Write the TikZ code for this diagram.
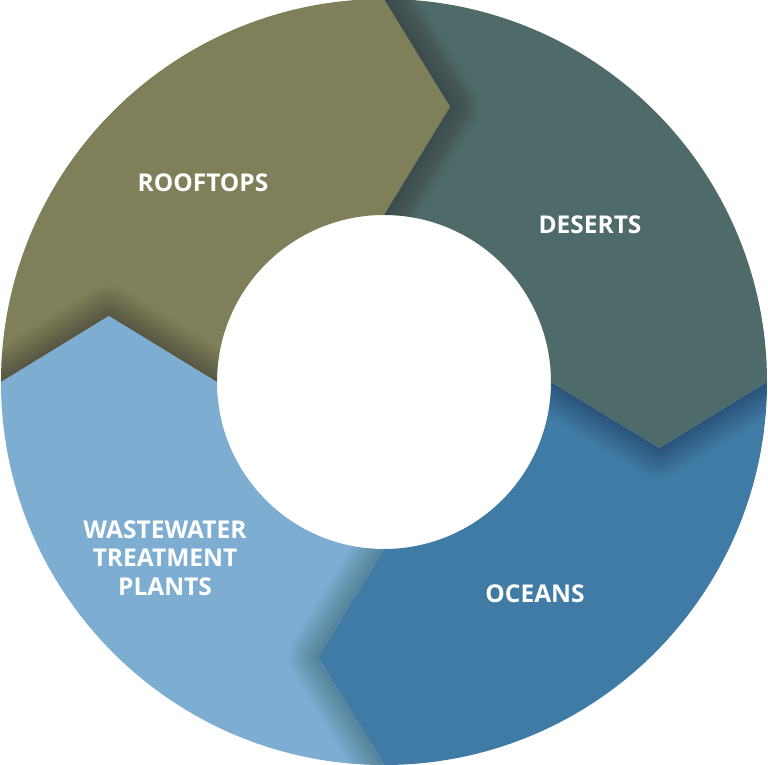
\documentclass[tikz,border=0pt]{standalone}
\usepackage{fontspec}
\setmainfont{Open Sans}
\definecolor{rooftopc}{HTML}{7F7F5A}
\definecolor{desertc}{HTML}{4E6B69}
\definecolor{oceanc}{HTML}{3F7BA4}
\definecolor{wastec}{HTML}{7DAED2}
\def\segp#1#2{(#1:383) arc[start angle=#1,end angle=#2,radius=383] -- ({#2-13.5}:283) -- (#2:167) arc[start angle=#2,end angle=#1,radius=167] -- ({#1-13.5}:283) -- cycle}
\def\edgep#1{(#1:383) -- ({#1-13.5}:283) -- (#1:167)}
\tikzset{
  lbl/.style={text=white, font=\bfseries\fontsize{24.5}{28.5}\selectfont, align=center},
}
\begin{document}
\begin{tikzpicture}[x=1pt,y=1pt]
\useasboundingbox (-384,-383) rectangle (384,382);
% segments
\fill[rooftopc] \segp{180}{90};
\fill[desertc] \segp{90}{0};
\fill[oceanc] \segp{0}{-90};
\fill[wastec] \segp{270}{180};
% shadows cast by arrow tips
\foreach \b/\na/\nb in {90/90/0, 0/0/-90, -90/270/180, 180/180/90}{
  \begin{scope}
    \clip \segp{\na}{\nb};
    \foreach \w in {3,6,...,60}{
      \draw[line width=\w pt, black, opacity=0.012, line join=round] \edgep{\b};
    }
  \end{scope}
}
% labels
\node[lbl] (roof) at (-181,199) {ROOFTOPS};
\node[lbl] (des) at (206,157) {DESERTS};
\node[lbl] (oce) at (151,-212) {OCEANS};
\node[lbl] (waste) at (-219,-176) {WASTEWATER\\TREATMENT\\PLANTS};
\end{tikzpicture}
\end{document}
